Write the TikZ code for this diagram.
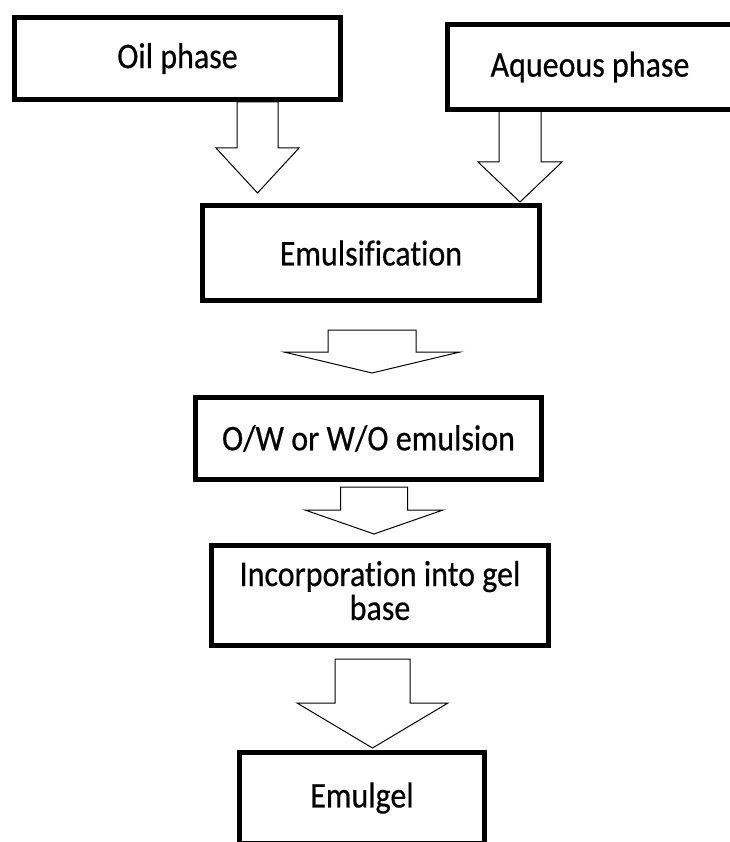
\documentclass[tikz,border=0pt]{standalone}
\usepackage{fontspec}
\usepackage{graphicx}
\setmainfont{Carlito}[Ligatures=NoCommon, FakeBold=0.5]
\newcommand\stx[1]{\scalebox{1}[1.13]{#1}}
\newcommand\blockarr[6]{%
  \draw[barrow] (#1-#5,#2) -- (#1-#5,#3) -- (#1-#6,#3) -- (#1,#4) -- (#1+#6,#3) -- (#1+#5,#3) -- (#1+#5,#2) -- cycle;}
\tikzset{
  box/.style={draw, line width=5pt, inner sep=0pt, align=center,
    font=\fontsize{32}{33}\selectfont},
  barrow/.style={draw, line width=1pt, fill=white, line join=miter}
}
\begin{document}
\begin{tikzpicture}[x=1pt,y=-1pt]
\useasboundingbox (0,0) rectangle (729,842);
% block arrows
\blockarr{257.5}{102}{148}{193}{20.5}{41.5}
\blockarr{520}{110}{162}{202}{21}{42}
\blockarr{372}{330}{352}{373}{44}{88}
\blockarr{374}{487}{510}{534}{33.5}{69}
\blockarr{372.5}{659}{703}{748}{37.5}{75.5}
% boxes
\node[box, minimum width=326pt, minimum height=82pt] (oil) at (177.5,58.5) {\stx{Oil phase}};
\node[box, minimum width=285pt, minimum height=85pt] (aq) at (590,67) {\stx{Aqueous phase}};
\node[box, minimum width=337pt, minimum height=95pt] (emu) at (371,253) {\stx{Emulsification}};
\node[box, minimum width=346pt, minimum height=82pt] (ow) at (368.5,438.5) {\stx{O/W or W/O emulsion}};
\node[box, minimum width=337pt, minimum height=100pt] (inc) at (380,595.5) {\stx{\begin{tabular}{@{}c@{}}Incorporation into gel\\[-3pt] base\end{tabular}}};
\node[box, minimum width=245pt, minimum height=91pt] (gel) at (362,798) {\stx{Emulgel}};
\end{tikzpicture}
\end{document}
